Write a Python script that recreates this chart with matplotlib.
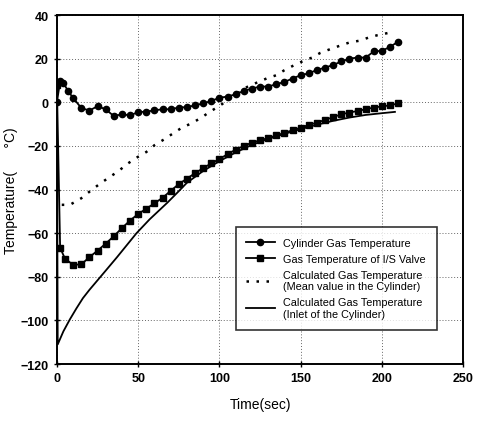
import matplotlib
matplotlib.use('Agg')
import matplotlib.pyplot as plt

plt.rcParams['font.family'] = ['Liberation Sans', 'DejaVu Sans']

# Cylinder gas temperature (circles)
cyl_t = [0, 2, 4, 7, 10, 15, 20, 25, 30, 35, 40, 45, 50, 55, 60, 65, 70, 75, 80, 85,
         90, 95, 100, 105, 110, 115, 120, 125, 130, 135, 140, 145, 150, 155, 160, 165,
         170, 175, 180, 185, 190, 195, 200, 205, 210]
cyl_T = [0, 9.6, 8.9, 5, 2, -2.6, -3.8, -1.8, -3.2, -6.3, -5.5, -6, -4.5, -4.3, -3.7,
         -3.2, -3.2, -2.4, -2.2, -1.4, -0.5, 0.6, 2.1, 2.6, 3.7, 5.2, 6.3, 7.2, 7.2, 8.3,
         9.3, 10.9, 12.4, 13.3, 14.8, 15.9, 17.1, 18.7, 20, 20.5, 20.5, 23.3, 23.6, 25.4, 27.8]

# Gas temperature of I/S valve (squares)
valve_t = [0, 2, 5, 10, 15, 20, 25, 30, 35, 40, 45, 50, 55, 60, 65, 70, 75, 80, 85, 90,
           95, 100, 105, 110, 115, 120, 125, 130, 135, 140, 145, 150, 155, 160, 165, 170,
           175, 180, 185, 190, 195, 200, 205, 210]
valve_T = [8, -66.7, -71.7, -74.5, -74.3, -71, -68, -64.8, -61.4, -57.7, -54.2, -51.2,
           -48.8, -46.3, -43.8, -40.6, -37.5, -35, -32.5, -30.2, -28, -26, -23.8, -21.7,
           -20, -18.5, -17.4, -16.4, -15.2, -14, -12.8, -11.6, -10.4, -9.3, -8.1, -6.8,
           -5.5, -4.7, -4, -3.2, -2.4, -1.9, -1.4, -0.5]

# Calculated mean value in the cylinder (dotted)
mean_t = [3, 8, 15, 20, 26, 32, 38, 43, 49, 55, 60, 66, 72, 77, 83, 89, 94, 100, 106,
          112, 117, 123, 129, 135, 140, 146, 151, 157, 162, 168, 174, 180, 186, 192, 197, 204]
mean_T = [-47, -47, -44, -41, -37.6, -34.5, -31.5, -28.4, -25.4, -22.8, -19.7, -17, -14,
          -11.6, -9.6, -7, -4.4, -1.7, 1.5, 4.5, 7, 9, 10.9, 12.4, 14.7, 17, 18.7, 20.5,
          22.6, 24.3, 25.9, 27.4, 28.2, 29.7, 30.7, 31.8]

# Calculated inlet of the cylinder (solid)
inlet_t = [0, 0.5, 4, 8, 12, 16, 20, 25, 30, 37, 43, 49, 57, 63, 68, 74, 80, 90, 100,
           110, 120, 130, 140, 150, 160, 170, 180, 190, 200, 208]
inlet_T = [8, -111, -105, -99.5, -94.5, -89.8, -86, -81.6, -77.2, -71, -65.5, -60,
           -53.7, -49.5, -46, -41.5, -36.9, -31.5, -27, -23, -19.5, -16.8, -14.5, -12.3,
           -10.3, -8.5, -7, -5.8, -5, -4.4]

fig = plt.figure(figsize=(4.78, 4.27), dpi=100)
ax = fig.add_axes([0.119, 0.145, 0.85, 0.8175])

ax.plot(cyl_t, cyl_T, color='black', lw=1.3, marker='o', ms=4.5,
        label='Cylinder Gas Temperature')
ax.plot(valve_t, valve_T, color='black', lw=1.3, marker='s', ms=4.2,
        label='Gas Temperature of I/S Valve')
ax.plot(mean_t, mean_T, color='black', lw=1.8, linestyle=(0, (1, 3)),
        label='Calculated Gas Temperature\n(Mean value in the Cylinder)')
ax.plot(inlet_t, inlet_T, color='black', lw=1.3,
        label='Calculated Gas Temperature\n(Inlet of the Cylinder)')

ax.set_xlim(0, 250)
ax.set_ylim(-120, 40)
ax.set_xticks([0, 50, 100, 150, 200, 250])
ax.set_yticks(range(-120, 41, 20))
ax.grid(True, color='#666666', linestyle=(0, (1, 2)), linewidth=0.7)
for s in ax.spines.values():
    s.set_linewidth(1.4)
    s.set_color('black')
ax.tick_params(direction='inout', length=5, width=1, labelsize=9)
for lab in ax.get_xticklabels() + ax.get_yticklabels():
    lab.set_fontweight('bold')

ax.set_xlabel('Time(sec)', fontsize=10, labelpad=9)
ax.set_ylabel('Temperature(      °C)', fontsize=10)
ax.yaxis.set_label_coords(-0.095, 0.5)

leg = ax.legend(loc='lower right', bbox_to_anchor=(0.948, 0.083), fontsize=7.8,
                frameon=True, fancybox=False, edgecolor='black', handlelength=2.6,
                labelspacing=0.55, borderpad=1.0)
leg.get_frame().set_linewidth(1.2)

fig.savefig('out.png', dpi=100)
